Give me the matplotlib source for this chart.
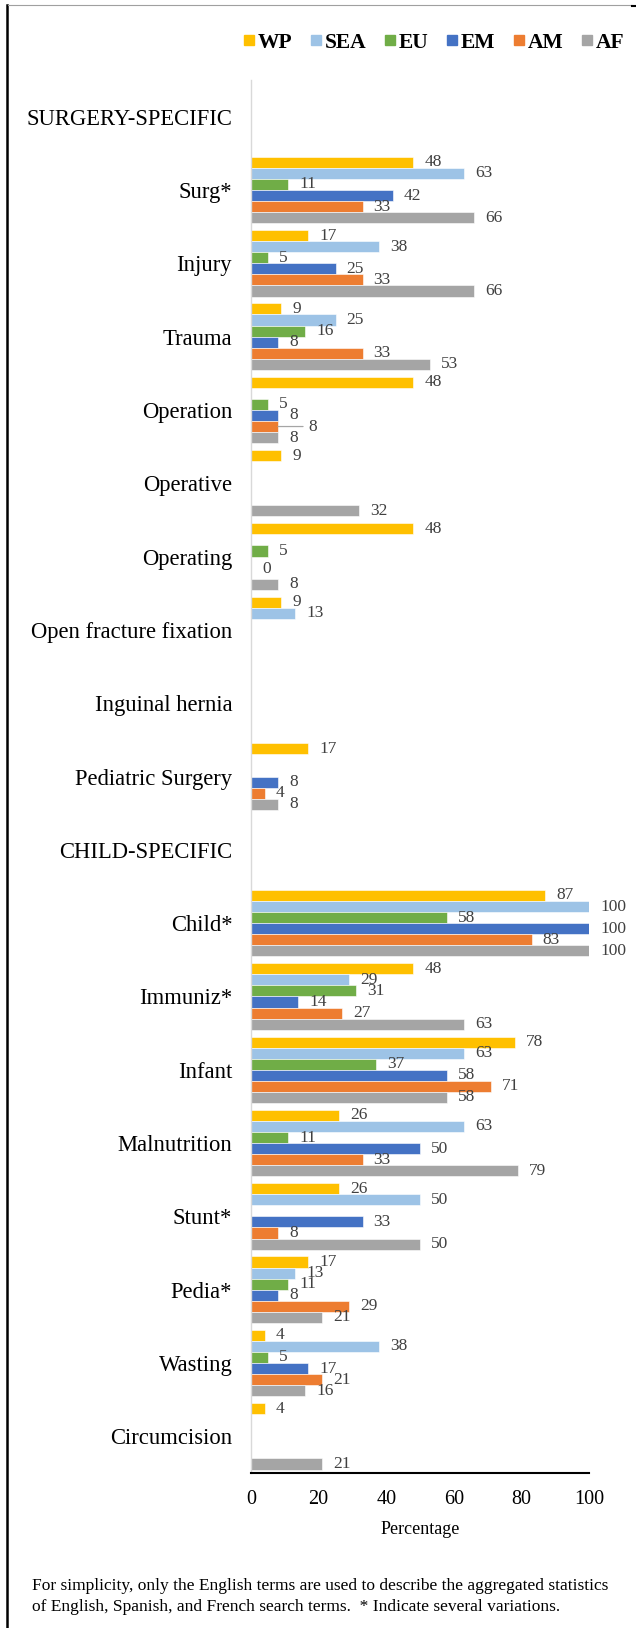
import numpy as np
import matplotlib
matplotlib.use('Agg')
import matplotlib.pyplot as plt
from matplotlib.lines import Line2D

plt.rcParams['font.family'] = ['Liberation Serif', 'DejaVu Serif']

cats = ["SURGERY-SPECIFIC", "Surg*", "Injury", "Trauma", "Operation", "Operative",
        "Operating", "Open fracture fixation", "Inguinal hernia", "Pediatric Surgery",
        "CHILD-SPECIFIC", "Child*", "Immuniz*", "Infant", "Malnutrition", "Stunt*",
        "Pedia*", "Wasting", "Circumcision"]
nan = np.nan
wp  = [nan, 48, 17, 9, 48, 9, 48, 9, nan, 17, nan, 87, 48, 78, 26, 26, 17, 4, 4]
sea = [nan, 63, 38, 25, nan, nan, nan, 13, nan, nan, nan, 100, 29, 63, 63, 50, 13, 38, nan]
eu  = [nan, 11, 5, 16, 5, nan, 5, nan, nan, nan, nan, 58, 31, 37, 11, nan, 11, 5, nan]
em  = [nan, 42, 25, 8, 8, nan, nan, nan, nan, 8, nan, 100, 14, 58, 50, 33, 8, 17, nan]
am  = [nan, 33, 33, 33, 8, nan, 0, nan, nan, 4, nan, 83, 27, 71, 33, 8, 29, 21, nan]
af  = [nan, 66, 66, 53, 8, 32, 8, nan, nan, 8, nan, 100, 63, 58, 79, 50, 21, 16, 21]

regions = ["WP", "SEA", "EU", "EM", "AM", "AF"]
series = [wp, sea, eu, em, am, af]
colors = ["#FFC000", "#9DC3E6", "#70AD47", "#4472C4", "#ED7D31", "#A5A5A5"]

fig = plt.figure(figsize=(6.36, 16.28), dpi=100)
ax = fig.add_axes([251/636, 1 - 1473/1628, (589 - 251)/636, (1473 - 80)/1628])

y = np.arange(len(cats))
h = 0.151
lab = dict(va='center', ha='left', fontsize=12.5, color='#404040', textcoords='offset points')
for i, (vals, c) in enumerate(zip(series, colors)):
    vals = np.array(vals, dtype=float)
    ypos = y + (i - 2.5) * h
    ok = ~np.isnan(vals)
    ax.barh(ypos[ok], vals[ok], height=h, color=c, edgecolor='white', linewidth=0.4)
    for yy, v, cat in zip(ypos[ok], vals[ok], np.array(cats)[ok]):
        if cat == "Operation" and regions[i] == "AM":
            # label pulled out with a leader line
            ax.annotate("%d" % v, xy=(v, yy), xytext=(22, 0),
                        arrowprops=dict(arrowstyle='-', color='#a5a5a5', lw=0.9,
                                        shrinkA=2, shrinkB=0), **lab)
        elif v == 0:
            ax.annotate("0", xy=(v, yy), xytext=(8, 3), **lab)
        else:
            ax.annotate("%d" % v, xy=(v, yy), xytext=(8, 0), **lab)

ax.set_ylim(len(cats) - 0.5, -0.5)
ax.set_yticks(y)
ax.set_yticklabels(cats, fontsize=16.3)
ax.set_xlim(0, 100)
ax.set_xticks([0, 20, 40, 60, 80, 100])
ax.tick_params(axis='x', length=0, pad=12, labelsize=14.5)
ax.tick_params(axis='y', length=0, pad=13.5)
ax.set_xlabel("Percentage", fontsize=13, labelpad=9)

for s in ['top', 'right']:
    ax.spines[s].set_visible(False)
ax.spines['left'].set_color('#d9d9d9')
ax.spines['left'].set_linewidth(1)
ax.spines['bottom'].set_color('black')
ax.spines['bottom'].set_linewidth(1.5)

handles = [Line2D([], [], marker='s', linestyle='none', markersize=7.5,
                  markerfacecolor=c, markeredgecolor=c) for c in colors]
fig.legend(handles, regions, loc='center right', bbox_to_anchor=(1.005, 1 - 43/1628),
           ncol=6, frameon=False, handlelength=0.5, handletextpad=0.15,
           columnspacing=0.85, borderpad=0.2, prop={'weight': 'bold', 'size': 15.5})

# page frame
fig.add_artist(Line2D([6.5/636, 6.5/636], [0, 1 - 5/1628], color='black', lw=1.8,
                      transform=fig.transFigure))
fig.add_artist(Line2D([8/636, 632/636], [1 - 5/1628, 1 - 5/1628], color='#a0a0a0', lw=0.8,
                      transform=fig.transFigure))
fig.add_artist(Line2D([632/636, 636/636], [1 - 6/1628, 1 - 6/1628], color='black', lw=1.5,
                      transform=fig.transFigure))

fig.text(32/636, 1 - 1586/1628,
         "For simplicity, only the English terms are used to describe the aggregated statistics",
         fontsize=12.5, va='center', ha='left')
fig.text(32/636, 1 - 1607/1628,
         "of English, Spanish, and French search terms.  * Indicate several variations.",
         fontsize=12.5, va='center', ha='left')

fig.savefig("out.png", dpi=100)
